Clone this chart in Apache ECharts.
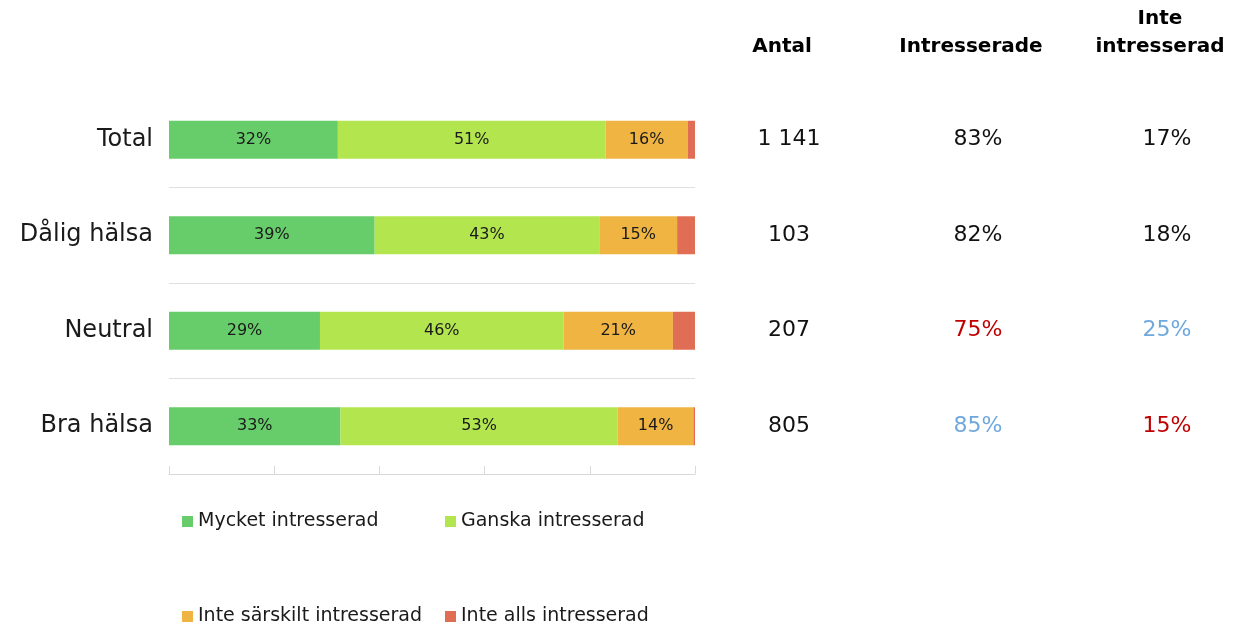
<!DOCTYPE html>
<html>
<head>
<meta charset="utf-8">
<script src="https://cdn.jsdelivr.net/npm/echarts@6/dist/echarts.min.js"></script>
<style>
html,body{margin:0;padding:0;background:#fff;}
#chart{width:1233px;height:626px;}
</style>
</head>
<body>
<div id="chart"></div>
<script>
// ---- data ----
var categories = ['Total', 'Dålig hälsa', 'Neutral', 'Bra hälsa'];
var seriesNames = ['Mycket intresserad', 'Ganska intresserad', 'Inte särskilt intresserad', 'Inte alls intresserad'];
var mycket   = [32.1, 39.1, 28.7, 32.6];
var ganska   = [50.9, 42.7, 46.3, 52.7];
var inteSars = [15.6, 14.8, 20.8, 14.4];
var inteAlls = [1.4, 3.4, 4.2, 0.3];
var tableHeaders = ['Antal', 'Intresserade', 'Inte\nintresserad'];
var antal = ['1 141', '103', '207', '805'];
var intresserade = [83, 82, 75, 85];
var inteIntresserad = [17, 18, 25, 15];
// highlight flags: '' normal, 'low' red, 'high' blue
var intrFlag = ['', '', 'low', 'high'];
var inteFlag = ['', '', 'high', 'low'];

// ---- styles ----
var FONT = 'DejaVu Sans';
var colors = ['#66CD6A', '#B3E64E', '#F0B443', '#E06E55'];
var flagColor = {'': '#111111', 'low': '#C00000', 'high': '#6FA8DC'};

var chart = echarts.init(document.getElementById('chart'));

var barValues = [mycket, ganska, inteSars, inteAlls];
var barSeries = seriesNames.map(function (name, i) {
  return {
    name: name,
    type: 'bar',
    stack: 'total',
    xAxisIndex: 0, yAxisIndex: 0,
    barWidth: 38,
    data: barValues[i],
    itemStyle: {color: colors[i]},
    label: {
      show: i < 3,
      position: 'inside',
      fontFamily: FONT,
      fontSize: 16,
      color: '#1a1a1a',
      formatter: function (p) { return Math.round(p.value) + '%'; }
    },
    silent: true
  };
});

var cells = [];
categories.forEach(function (c, r) {
  cells.push({value: [0, r], text: antal[r], label: {color: flagColor['']}});
  cells.push({value: [1, r], text: intresserade[r] + '%', label: {color: flagColor[intrFlag[r]]}});
  cells.push({value: [2, r], text: inteIntresserad[r] + '%', label: {color: flagColor[inteFlag[r]]}});
});

var legendBase = {
  itemWidth: 11, itemHeight: 11, icon: 'rect', padding: 0,
  textStyle: {fontFamily: FONT, fontSize: 19, color: '#1a1a1a'},
  selectedMode: false
};
function legendAt(name, left, top) {
  return Object.assign({}, legendBase, {data: [name], left: left, top: top});
}

chart.setOption({
  animation: false,
  backgroundColor: '#fff',
  textStyle: {fontFamily: FONT},
  legend: [
    legendAt(seriesNames[0], 182, 512),
    legendAt(seriesNames[1], 445, 512),
    legendAt(seriesNames[2], 182, 607),
    legendAt(seriesNames[3], 445, 607)
  ],
  grid: [
    {left: 169, right: 538, top: 92, bottom: 152},
    {left: 782, right: 73, top: 92, bottom: 152}
  ],
  xAxis: [
    {
      gridIndex: 0, type: 'value', min: 0, max: 100, interval: 20,
      axisLine: {show: true, lineStyle: {color: '#d9d9d9', width: 1}},
      axisTick: {show: true, inside: true, length: 8, lineStyle: {color: '#d9d9d9'}},
      axisLabel: {show: false},
      splitLine: {show: false}
    },
    {
      gridIndex: 1, type: 'value', position: 'top', min: 0, max: 2, interval: 1,
      axisLine: {show: false}, axisTick: {show: false}, splitLine: {show: false},
      axisLabel: {
        fontFamily: FONT, fontWeight: 'bold', fontSize: 20, color: '#000',
        margin: 31, lineHeight: 28, showMinLabel: true, showMaxLabel: true,
        formatter: function (v) { return tableHeaders[v] || ''; }
      }
    }
  ],
  yAxis: [
    {
      gridIndex: 0, type: 'category', inverse: true, data: categories,
      axisLine: {show: false}, axisTick: {show: false},
      axisLabel: {fontFamily: FONT, fontSize: 24, color: '#1a1a1a', margin: 16},
      splitLine: {show: true, showMinLine: false, lineStyle: {color: '#e0e0e0', width: 1}}
    },
    {
      gridIndex: 1, type: 'category', inverse: true, data: categories, show: false
    }
  ],
  series: barSeries.concat([{
    type: 'scatter',
    xAxisIndex: 1, yAxisIndex: 1,
    symbolSize: 1,
    itemStyle: {color: 'rgba(0,0,0,0)', opacity: 1},
    silent: true,
    data: cells,
    label: {
      show: true, position: 'inside', offset: [7, 0],
      fontFamily: FONT, fontSize: 22,
      formatter: function (p) { return p.data.text; }
    }
  }])
});
</script>
</body>
</html>
